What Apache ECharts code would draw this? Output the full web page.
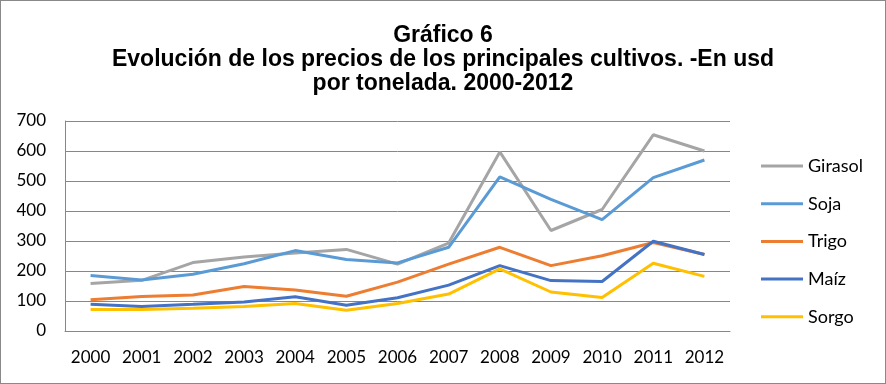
<!DOCTYPE html>
<html>
<head>
<meta charset="utf-8">
<script src="https://cdn.jsdelivr.net/npm/echarts@6/dist/echarts.min.js"></script>
<style>
html,body{margin:0;padding:0;background:#fff;}
#c{width:884px;height:382px;border:1px solid #898989;}
</style>
</head>
<body>
<div id="c"></div>
<script>
const years = ['2000','2001','2002','2003','2004','2005','2006','2007','2008','2009','2010','2011','2012'];
const girasol = [158,169,228,247,260,272,223,293,597,335,405,654,600];
const soja    = [185,170,189,224,268,238,227,279,514,439,371,511,570];
const trigo   = [104,115,120,148,137,116,163,223,279,218,251,295,255];
const maiz    = [89,82,89,97,114,86,111,153,218,168,165,299,255];
const sorgo   = [72,72,76,82,92,69,92,123,207,130,112,226,182];
const yTicks = [0,100,200,300,400,500,600,700];

const names = ['Girasol','Soja','Trigo','Maíz','Sorgo'];
const colors = ['#A5A5A5','#5B9BD5','#ED7D31','#4472C4','#FFC000'];
const data = [girasol, soja, trigo, maiz, sorgo];

const chart = echarts.init(document.getElementById('c'), null, {renderer:'canvas'});
const font = 'Lato';
chart.setOption({
  animation:false,
  title:{
    text:'Gráfico 6\nEvolución de los precios de los principales cultivos. -En usd\npor tonelada. 2000-2012',
    left:'center', top:23, padding:0,
    textStyle:{fontFamily:'Liberation Sans', fontWeight:'bold', fontSize:23, lineHeight:24, color:'#000', align:'center'}
  },
  legend:{
    orient:'vertical', left:760, top:155, padding:0,
    icon:'path://M0,0 L42,0 L42,3 L0,3 Z',
    itemWidth:42, itemHeight:3, itemGap:17.7,
    textStyle:{fontFamily:font, fontSize:18, color:'#000', lineHeight:20, height:20},
    data:names
  },
  grid:{left:64, right:155, top:120, bottom:52, containLabel:false},
  xAxis:{
    type:'category', data:years, boundaryGap:true,
    axisLine:{lineStyle:{color:'#878787', width:1}},
    axisTick:{show:false},
    axisLabel:{fontFamily:font, fontSize:17, color:'#000', margin:18, interval:0}
  },
  yAxis:{
    type:'value', min:0, max:700, interval:100,
    axisLine:{show:true, lineStyle:{color:'#878787', width:1}},
    axisTick:{show:false},
    splitLine:{lineStyle:{color:'#878787', width:1}},
    axisLabel:{fontFamily:font, fontSize:17, color:'#000', margin:19}
  },
  series: names.map((n,i)=>({
    name:n, type:'line', data:data[i], symbol:'none',
    lineStyle:{color:colors[i], width:3},
    itemStyle:{color:colors[i]}
  }))
});
</script>
</body>
</html>
